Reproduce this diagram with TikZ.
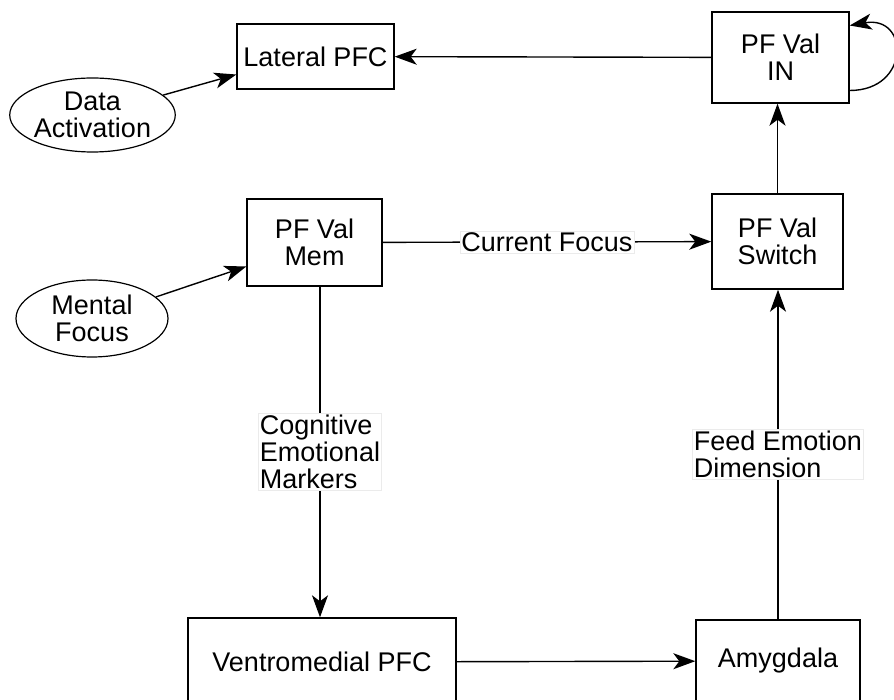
\documentclass[tikz,border=0pt]{standalone}
\usepackage{fontspec}
\setmainfont{Liberation Sans}
\usetikzlibrary{arrows.meta,shapes.geometric}
\tikzset{
  box/.style={draw,line width=1.4pt,align=center,inner sep=0pt},
  oval/.style={draw,ellipse,line width=1.2pt,align=center,inner sep=0pt},
  lbl/.style={fill=white,draw=black!8,line width=0.6pt,align=left,inner sep=1.5pt},
  arr/.style={line width=1.4pt,-{Stealth[length=22pt,width=16pt,inset=6pt]}}
}
\begin{document}
\begin{tikzpicture}[x=1pt,y=-1pt,font=\fontsize{27}{27}\selectfont]
\clip (0,0) rectangle (894,700);
\fill[white] (0,0) rectangle (894,700);

% boxes
\node[box,minimum width=157pt,minimum height=65pt] (latpfc) at (315.5,56.5) {Lateral PFC};
\node[box,minimum width=137pt,minimum height=91pt] (pfin) at (780.5,57.5) {PF Val\\IN};
\node[box,minimum width=135pt,minimum height=87pt] (mem) at (314.5,242.5) {PF Val\\Mem};
\node[box,minimum width=131pt,minimum height=95pt] (switch) at (777.5,241.5) {PF Val\\Switch};
\node[box,minimum width=268pt,minimum height=88pt] (vmpfc) at (322,662) {Ventromedial PFC};
\node[box,minimum width=164pt,minimum height=82pt] (amyg) at (778,661) {Amygdala};

% inputs
\node[oval,minimum width=161pt,minimum height=74pt] (data) at (92.5,115) {Data\\Activation};
\node[oval,minimum width=152pt,minimum height=77pt] (focus) at (92,318.5) {Mental\\Focus};

\draw[arr] (data) -- ([yshift=-18pt]latpfc.west);
\draw[arr] (focus) -- ([yshift=-24pt]mem.west);

\draw[arr] (pfin) -- (latpfc);
\draw[arr] ([yshift=-33pt]pfin.east) to[out=0,in=10,looseness=2.4] ([yshift=32pt]pfin.east);
\draw[arr] (switch) -- (switch |- pfin.south);
\draw[arr] (mem) -- node[lbl]{Current Focus} (switch);
\draw[arr] ([xshift=5.5pt]mem.south) -- node[lbl]{Cognitive\\Emotional\\Markers} ([xshift=5.5pt]mem.south |- vmpfc.north);
\draw[arr] (vmpfc) -- (amyg);
\draw[arr] (amyg.north) -- node[lbl]{Feed Emotion\\Dimension} (amyg.north |- switch.south);
\end{tikzpicture}
\end{document}
